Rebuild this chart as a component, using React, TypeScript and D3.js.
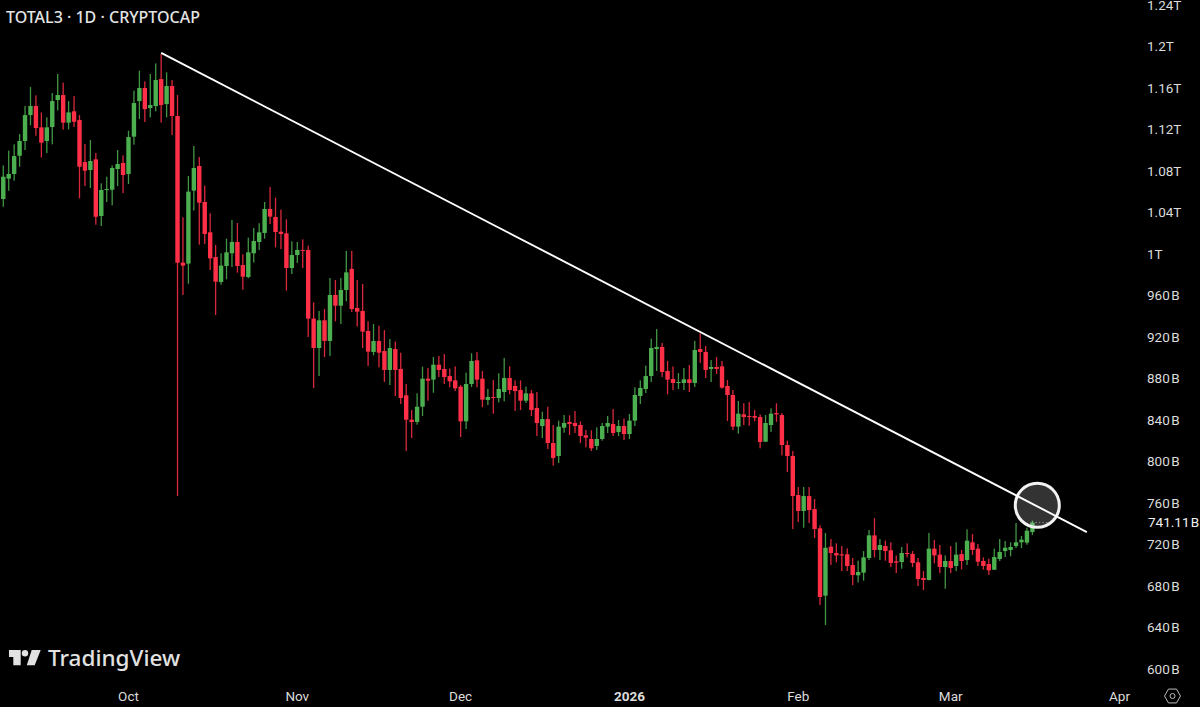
import React from "react";
import * as d3 from "d3";

const startDate = new Date(Date.UTC(2025, 8, 8));
const directions = "GGGGGG RR GGG R G RRR G R GGGG R GGG R GG R G RRR GG RRRR GGG RR GGGG RRRR GG RRR G R G R GG RRRR G RR G RRRR GG R G RRRRR GG RR G R GG RRR G RR G RR GG RRRRR GGG R G R GGGGGG RRR GG R G RR G RRRR G RRRR GG RRRRR G RRR G RRRRR GGG R G RRR G RRRR G RR G R G R G RRRR GGGGGGGG".replace(/ /g, "");

const highs = [1085.4,1099.6,1105.7,1115.6,1142.6,1160.9,1152.9,1136.5,1131.7,1155.2,1173.5,1165.1,1147.4,1152.3,1133.9,1106.0,1109.8,1097.3,1068.1,1074.5,1085.4,1100.2,1095.1,1118.8,1157.4,1176.7,1166.4,1173.5,1183.7,1192.7,1175.1,1167.7,1153.2,
1035.4,1075.2,1104.1,1093.5,1065.9,1039.2,1008.7,1000.7,1014.8,1032.8,1029.9,999.7,1015.8,1025.1,1029.6,1050.1,1064.6,1054.3,1042.7,1033.4,1012.2,1011.6,1014.1,1008.0,953.4,945.1,947.0,976.9,975.0,976.9,1002.9,1002.9,975.0,971.1,935.1,
932.5,930.9,926.7,918.1,915.5,904.9,874.7,849.6,865.7,891.4,890.1,900.7,901.7,903.6,889.5,891.7,873.7,885.6,904.3,905.5,887.2,869.9,878.5,885.0,899.8,891.7,878.2,878.2,872.1,868.9,867.0,848.0,852.8,
835.2,839.4,844.8,844.5,848.7,838.7,830.4,830.0,832.9,837.1,843.9,850.6,840.0,841.3,845.8,871.5,878.2,892.4,918.4,927.7,914.2,896.9,891.7,885.3,890.1,893.0,916.2,923.5,911.3,897.8,900.7,896.9,878.6,
868.9,858.3,856.1,857.3,849.6,845.4,844.8,851.2,856.1,846.7,820.1,810.1,775.4,775.4,775.4,763.8,738.5,731.1,725.3,721.1,718.5,716.3,707.0,
704.4,713.7,734.0,745.5,725.3,723.7,722.1,709.5,717.6,721.1,713.7,707.0,694.4,731.1,724.3,719.5,709.5,718.5,722.1,714.7,734.6,730.1,720.5,707.6,706.3,716.0,725.3,723.4,722.1,740.7,728.2,736.2,743.0];

const bodyTops = [1074.5,1077.1,1094.4,1108.9,1133.9,1142.6,1142.6,1122.1,1122.1,1147.4,1153.2,1153.2,1136.5,1137.5,1129.1,1088.6,1089.6,1091.2,1061.7,1062.6,1082.9,1086.7,1087.7,1112.7,1145.5,1160.0,1160.0,1143.6,1167.7,1168.6,1161.9,1161.9,1133.0,
991.7,1060.1,1082.9,1084.8,1050.1,1020.9,997.1,988.8,1001.6,1011.6,1011.6,989.4,1001.6,1012.5,1020.9,1043.4,1043.4,1035.7,1021.5,1019.9,999.0,1003.9,1003.9,1003.9,937.7,936.1,936.1,960.5,960.5,965.3,982.3,985.6,948.0,945.1,925.8,
916.1,916.1,906.5,909.4,908.4,889.2,863.8,840.3,852.8,879.8,879.8,893.3,893.3,889.2,882.4,878.2,872.1,874.7,896.9,897.5,879.8,862.2,862.2,869.9,880.5,880.5,872.8,868.9,865.7,865.7,851.6,840.9,840.9,
817.8,833.6,837.1,838.1,837.1,835.2,825.2,821.7,821.7,834.2,837.1,836.1,834.2,834.2,839.4,864.1,870.9,882.4,909.4,910.4,910.4,887.2,879.5,876.6,879.2,879.2,907.5,908.4,905.6,891.1,891.1,891.7,872.8,
864.1,846.1,845.4,843.8,843.8,842.9,837.1,846.1,846.7,844.8,815.9,805.3,767.7,766.7,766.7,754.2,735.6,716.9,717.9,711.8,710.5,710.5,700.2,
693.5,707.6,728.8,728.8,719.5,718.5,714.4,703.8,711.8,711.8,710.8,702.8,687.7,716.0,716.0,710.2,704.1,704.1,710.2,710.8,723.7,722.1,716.0,704.1,701.2,707.9,712.8,716.9,717.6,722.1,724.6,733.3,741.1];

const bodyBottoms = [1053.0,1072.6,1077.1,1094.7,1108.9,1133.9,1121.4,1107.3,1108.9,1122.4,1148.4,1126.6,1126.6,1127.5,1084.1,1080.3,1080.9,1035.9,1036.6,1062.0,1062.0,1081.9,1076.1,1077.1,1113.1,1147.4,1139.7,1140.7,1142.6,1143.6,1144.5,1133.0,991.6,
988.8,990.7,1061.1,1049.5,1019.3,995.8,973.3,973.0,988.4,1000.7,988.4,978.2,977.8,1000.7,1011.6,1020.3,1036.0,1021.2,1019.3,986.5,986.5,999.0,1003.2,937.7,909.4,909.4,916.2,916.2,950.2,950.2,965.3,947.0,944.4,925.2,905.9,
905.5,904.9,888.2,888.2,888.2,861.2,840.3,838.1,838.1,852.8,877.9,878.9,888.2,881.4,877.3,870.5,838.7,838.7,874.7,878.9,859.6,859.3,861.5,861.2,867.0,868.9,867.9,858.6,858.6,849.6,837.1,834.2,817.8,
803.4,805.3,832.6,836.1,834.2,824.6,823.0,812.7,815.0,821.7,833.6,827.5,828.4,826.5,826.5,839.4,863.1,869.9,882.4,908.4,886.3,878.9,875.7,875.7,875.7,875.7,875.7,905.6,888.2,889.2,889.2,871.2,864.1,
833.6,833.6,842.9,843.2,842.2,818.8,819.1,835.2,845.4,815.9,805.3,766.7,752.3,752.3,753.2,734.9,669.4,670.7,711.8,709.5,709.5,699.3,690.6,
690.3,692.8,707.0,714.7,714.7,713.7,702.2,702.5,703.1,710.8,702.2,686.7,685.8,685.8,709.5,698.3,698.3,697.3,699.3,704.1,705.0,714.7,703.4,699.3,695.1,695.7,706.0,713.7,714.7,718.5,722.1,721.8,732.0];

const lows = [1045.6,1061.0,1070.6,1084.1,1100.2,1124.0,1114.0,1093.1,1097.3,1105.7,1138.4,1119.8,1120.1,1122.4,1053.6,1065.5,1063.6,1028.2,1027.0,1050.1,1046.9,1065.5,1058.8,1067.4,1105.4,1130.1,1127.2,1131.7,1137.5,1126.6,1131.7,1114.7,766.7,
960.5,971.4,1041.8,1009.0,1009.6,984.6,941.2,970.4,975.6,987.5,982.0,965.6,976.6,991.7,1003.9,1014.8,1028.9,1006.4,1004.8,964.7,980.7,991.3,986.5,920.0,870.8,882.4,900.7,901.7,935.1,932.5,954.4,944.1,930.0,909.4,892.1,
902.3,890.8,876.6,873.7,863.1,855.4,810.1,822.6,835.5,843.8,858.6,866.3,881.4,874.7,871.5,867.9,823.6,831.3,871.8,871.5,852.2,854.4,846.1,857.0,858.0,864.7,848.7,849.6,856.4,843.8,824.6,822.6,812.0,
796.0,798.6,827.8,825.6,827.5,817.8,813.7,810.1,811.1,820.1,827.5,824.6,824.6,820.7,821.7,834.2,855.4,866.0,876.6,887.2,881.5,864.7,868.9,869.9,868.9,867.0,871.8,895.0,880.5,876.6,884.3,870.2,839.0,
830.3,826.8,835.2,834.5,838.7,812.7,818.8,828.4,838.1,805.9,789.9,734.9,741.7,736.2,740.7,726.2,661.7,642.4,700.2,702.8,694.4,694.4,680.9,
683.5,685.1,705.0,707.6,705.0,704.4,698.3,692.5,696.7,707.6,698.3,680.0,676.1,685.4,701.8,692.5,677.4,692.5,694.4,696.0,700.2,709.9,699.3,695.7,690.6,695.4,704.1,707.9,708.6,716.6,716.6,719.8,729.1];

const priceTicks = [600,640,680,720,760,800,840,880,920,960,1000,1040,1080,1120,1160,1200,1240];
const monthTicks = [
  { date: new Date(Date.UTC(2025, 9, 1)), label: "Oct", bold: false },
  { date: new Date(Date.UTC(2025, 10, 1)), label: "Nov", bold: false },
  { date: new Date(Date.UTC(2025, 11, 1)), label: "Dec", bold: false },
  { date: new Date(Date.UTC(2026, 0, 1)), label: "2026", bold: true },
  { date: new Date(Date.UTC(2026, 1, 1)), label: "Feb", bold: false },
  { date: new Date(Date.UTC(2026, 2, 1)), label: "Mar", bold: false },
  { date: new Date(Date.UTC(2026, 3, 1)), label: "Apr", bold: false },
];
const trendStart = { date: new Date(Date.UTC(2025, 9, 7)), price: 1193.8 };
const trendEnd = { date: new Date(Date.UTC(2026, 2, 26)), price: 732 };
const lastPrice = 741.11;

const W = 1200, H = 707;
const x = d3.scaleUtc().domain([monthTicks[0].date, monthTicks[6].date]).range([128.5, 1119.5]);
const y = d3.scaleLinear().domain([600, 1240]).range([669, 5]);
const UP = "#4CAF50", DOWN = "#FF2F47";
const FONT = "'Noto Sans', sans-serif";
const AXIS_FONT = "Roboto, sans-serif";

const fmtPrice = (v: number) => (v >= 1000 ? `${+(v / 1000).toFixed(2)}T` : `${v}\u200AB`);

export default function App() {
  const candles = highs.map((h, i) => ({
    date: d3.utcDay.offset(startDate, i),
    high: h,
    top: bodyTops[i],
    bottom: bodyBottoms[i],
    low: lows[i],
    up: directions[i] === "G",
  }));
  const lastX = x(candles[candles.length - 1].date);
  return (
    <svg width={W} height={H} viewBox={`0 0 ${W} ${H}`}
      style={{ position: "fixed", left: 0, top: 0, background: "#000", display: "block" }}>
      <rect width={W} height={H} fill="#000" />
      <text x={6} y={23} fill="#E4E4E4" fontFamily={FONT} fontSize={16} fontWeight={500}>TOTAL3 · 1D · CRYPTOCAP</text>

      <g>
        {candles.map((c, i) => {
          const cx = x(c.date);
          const col = c.up ? UP : DOWN;
          return (
            <g key={i}>
              <rect x={cx - 0.65} width={1.3} y={y(c.high)} height={y(c.low) - y(c.high)} fill={col} opacity={0.85} />
              <rect x={cx - 2.2} width={4.4} y={y(c.top)} height={Math.max(1, y(c.bottom) - y(c.top))} fill={col} />
            </g>
          );
        })}
      </g>

      <line x1={lastX + 3} x2={1048} y1={y(lastPrice)} y2={y(lastPrice)} stroke="#6f6f6f" strokeWidth={1} strokeDasharray="1.5 2" />
      <circle cx={1037.3} cy={505.3} r={22} fill="rgba(255,255,255,0.2)" stroke="#F2F2F2" strokeWidth={3} />
      <line x1={x(trendStart.date)} y1={y(trendStart.price)} x2={x(trendEnd.date)} y2={y(trendEnd.price)}
        stroke="#FFFFFF" strokeWidth={1.9} />

      <g fontFamily={AXIS_FONT} fontSize={13.5} fill="#DCDCDC">
        {priceTicks.map((p) => (
          <text key={p} x={1147} y={y(p) + 4.7}>{fmtPrice(p)}</text>
        ))}
        <text x={1148} y={y(lastPrice) + 4.7} fill="#F0F0F0">{`741.11\u200AB`}</text>
        {monthTicks.map((m) => (
          <text key={m.label} x={x(m.date)} y={701} textAnchor="middle" fontWeight={m.bold ? 700 : 400}>{m.label}</text>
        ))}
      </g>

      <g fill="none" stroke="#BDBDBD" strokeWidth={1}>
        <path d={d3.line()(d3.range(6).map((k) => {
          const a = Math.PI * k / 3;
          return [1172.5 + 8 * Math.cos(a), 696 + 8 * Math.sin(a)] as [number, number];
        }))! + "Z"} />
        <circle cx={1172.5} cy={696} r={2.5} />
      </g>

      <g fill="#E2E2E2">
        <path d="M9 650H20.7V665.3H13.3V657H9Z" />
        <circle cx={25} cy={653.3} r={3.2} />
        <path d="M31.7 650H40.7L34.7 665.3H26.8Z" />
        <text x={48} y={666} fontFamily={FONT} fontSize={22.5} fontWeight={500}>TradingView</text>
      </g>
    </svg>
  );
}
